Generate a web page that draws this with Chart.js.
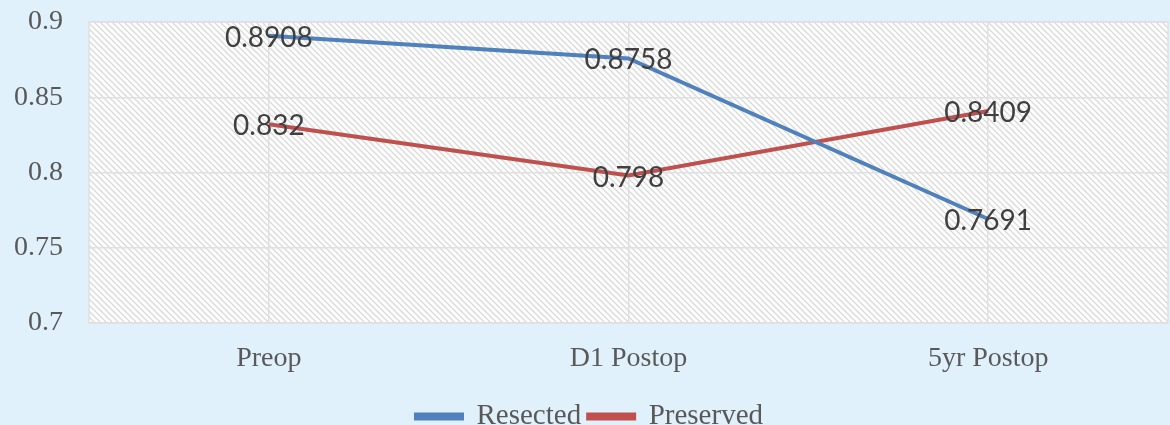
<!DOCTYPE html>
<html>
<head>
<meta charset="utf-8">
<script src="https://cdn.jsdelivr.net/npm/chart.js@4/dist/chart.umd.min.js"></script>
<style>
  body { margin: 0; background: #e1f1fb; overflow: hidden; }
  #wrap { width: 1170px; height: 425px; position: relative; }
</style>
</head>
<body>
<div id="wrap"><canvas id="lineChart"></canvas></div>
<script>
// 데이터
const stages = ["Preop", "D1 Postop", "5yr Postop"];
const resected = [0.8908, 0.8758, 0.7691];
const preserved = [0.832, 0.798, 0.8409];

// 빗금 패턴 만들기
function makeHatch() {
  const c = document.createElement("canvas");
  c.width = 6; c.height = 6;
  const g = c.getContext("2d");
  g.fillStyle = "#ffffff";
  g.fillRect(0, 0, 6, 6);
  g.strokeStyle = "#d9d9d9";
  g.lineWidth = 1.3;
  g.beginPath();
  g.moveTo(-1, -1); g.lineTo(7, 7);
  g.moveTo(-4, 2); g.lineTo(4, 10);
  g.moveTo(2, -4); g.lineTo(10, 4);
  g.stroke();
  return g.createPattern(c, "repeat");
}

const plotBg = {
  id: "plotBg",
  beforeDraw(chart) {
    const { ctx, chartArea: a } = chart;
    ctx.save();
    ctx.fillStyle = makeHatch();
    ctx.fillRect(a.left, a.top, a.right - a.left, a.bottom - a.top);
    ctx.strokeStyle = "#e0e0e0";
    ctx.lineWidth = 1.5;
    ctx.strokeRect(a.left, a.top, a.right - a.left, a.bottom - a.top);
    ctx.restore();
  }
};

// 값 라벨 (점 위치 가운데)
const valueLabels = {
  id: "valueLabels",
  afterDatasetsDraw(chart) {
    const ctx = chart.ctx;
    ctx.save();
    ctx.font = "28px Lato";
    ctx.fillStyle = "#404040";
    ctx.textAlign = "center";
    ctx.textBaseline = "middle";
    chart.data.datasets.forEach((ds, i) => {
      chart.getDatasetMeta(i).data.forEach((pt, j) => {
        ctx.fillText(String(ds.data[j]), pt.x, pt.y + 2);
      });
    });
    ctx.restore();
  }
};

const tickFont = { family: "'Liberation Serif', serif", size: 28, lineHeight: 1 };
const legendFont = { family: "'Liberation Serif', serif", size: 29, lineHeight: 1 };

new Chart(document.getElementById("lineChart"), {
  type: "line",
  data: {
    labels: stages,
    datasets: [
      {
        label: "Resected",
        data: resected,
        borderColor: "#4f81bd",
        backgroundColor: "#4f81bd",
        borderWidth: 4,
        pointRadius: 0,
        tension: 0
      },
      {
        label: "Preserved",
        data: preserved,
        borderColor: "#c0504d",
        backgroundColor: "#c0504d",
        borderWidth: 4,
        pointRadius: 0,
        tension: 0
      }
    ]
  },
  options: {
    responsive: true,
    maintainAspectRatio: false,
    animation: false,
    layout: { padding: { left: 11, right: 2, top: 22, bottom: -16 } },
    scales: {
      x: {
        offset: true,
        grid: { offset: false, color: "#e0e0e0", lineWidth: 1.5, drawTicks: false },
        border: { display: false },
        ticks: { font: tickFont, color: "#595959", padding: 22 }
      },
      y: {
        min: 0.7,
        max: 0.9,
        ticks: {
          stepSize: 0.05,
          font: tickFont,
          color: "#595959",
          padding: 3,
          callback: (v) => parseFloat(v.toFixed(2)).toString()
        },
        grid: { color: "#e0e0e0", lineWidth: 1.5, tickLength: 23, tickColor: "rgba(0,0,0,0)" },
        border: { display: false }
      }
    },
    plugins: {
      legend: {
        position: "bottom",
        labels: {
          font: legendFont,
          color: "#595959",
          boxWidth: 46,
          boxHeight: 4,
          padding: 7
        }
      },
      tooltip: { enabled: false },
      title: { display: false }
    }
  },
  plugins: [plotBg, valueLabels]
});
</script>
</body>
</html>
